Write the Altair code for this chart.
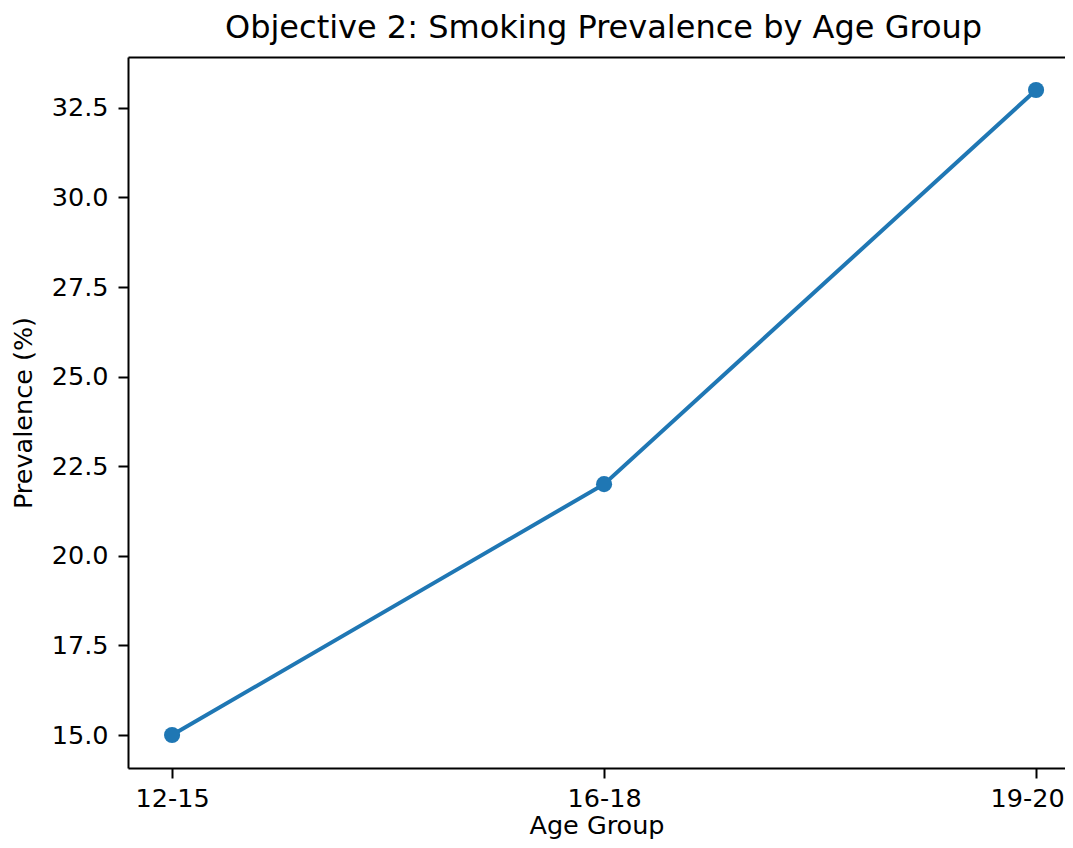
import altair as alt
import pandas as pd

age_groups = ["12-15", "16-18", "19-20"]
prevalence = [15.0, 22.0, 33.0]
y_ticks = [15.0, 17.5, 20.0, 22.5, 25.0, 27.5, 30.0, 32.5]

df = pd.DataFrame({
    "Age Group": age_groups,
    "idx": list(range(len(age_groups))),
    "Prevalence": prevalence,
})

FONT = "DejaVu Sans"
BLUE = "#1f77b4"
FS = 25.5

label_expr = "[" + ",".join("'" + g + "'" for g in age_groups) + "][datum.value]"
x_scale = alt.Scale(domain=[-0.102, 2.067], nice=False, zero=False)
y_scale = alt.Scale(domain=[14.08, 33.92], nice=False, zero=False)

x_bottom = alt.X(
    "idx:Q",
    scale=x_scale,
    axis=alt.Axis(
        title="Age Group", orient="bottom", values=[0, 1, 2], labelExpr=label_expr,
        labelAngle=0, grid=False, domain=True, domainColor="black", domainWidth=2,
        tickSize=10, tickWidth=2, tickColor="black",
        labelFontSize=FS, labelColor="black", labelPadding=8, labelFont=FONT,
        labelOffset={"condition": {"test": "datum.value == 2", "value": -9}, "value": 0},
        titleFontSize=FS, titleFont=FONT, titleFontWeight="normal",
        titleColor="black", titlePadding=2,
    ),
)
x_top = alt.X(
    "idx:Q",
    scale=x_scale,
    axis=alt.Axis(
        title=None, orient="top", labels=False, ticks=False, grid=False,
        domain=True, domainColor="black", domainWidth=2,
    ),
)
y_enc = alt.Y(
    "Prevalence:Q",
    scale=y_scale,
    axis=alt.Axis(
        title="Prevalence (%)", values=y_ticks, format=".1f", grid=False,
        domain=True, domainColor="black", domainWidth=2,
        tickSize=10, tickWidth=2, tickColor="black",
        labelFontSize=FS, labelColor="black", labelPadding=10, labelFont=FONT,
        titleFontSize=FS, titleFont=FONT, titleFontWeight="normal",
        titleColor="black", titlePadding=15,
    ),
)

line = alt.Chart(df).mark_line(color=BLUE, strokeWidth=4).encode(x=x_bottom, y=y_enc)
points = alt.Chart(df).mark_circle(color=BLUE, size=260, opacity=1).encode(x=x_top, y=y_enc)

chart = (
    alt.layer(line, points)
    .resolve_axis(x="independent")
    .properties(
        width=937,
        height=711,
        title=alt.TitleParams(
            "Objective 2: Smoking Prevalence by Age Group",
            font=FONT, fontSize=32, fontWeight="normal", color="black",
            anchor="middle", frame="group", baseline="bottom", offset=-20, dx=7,
        ),
        autosize=alt.AutoSizeParams(type="none"),
        padding={"left": 120, "top": 49, "right": 0, "bottom": 72},
    )
    .configure(background="white")
    .configure_view(stroke=None)
)

chart.save("out.html", embed_options={"renderer": "svg", "actions": False})
